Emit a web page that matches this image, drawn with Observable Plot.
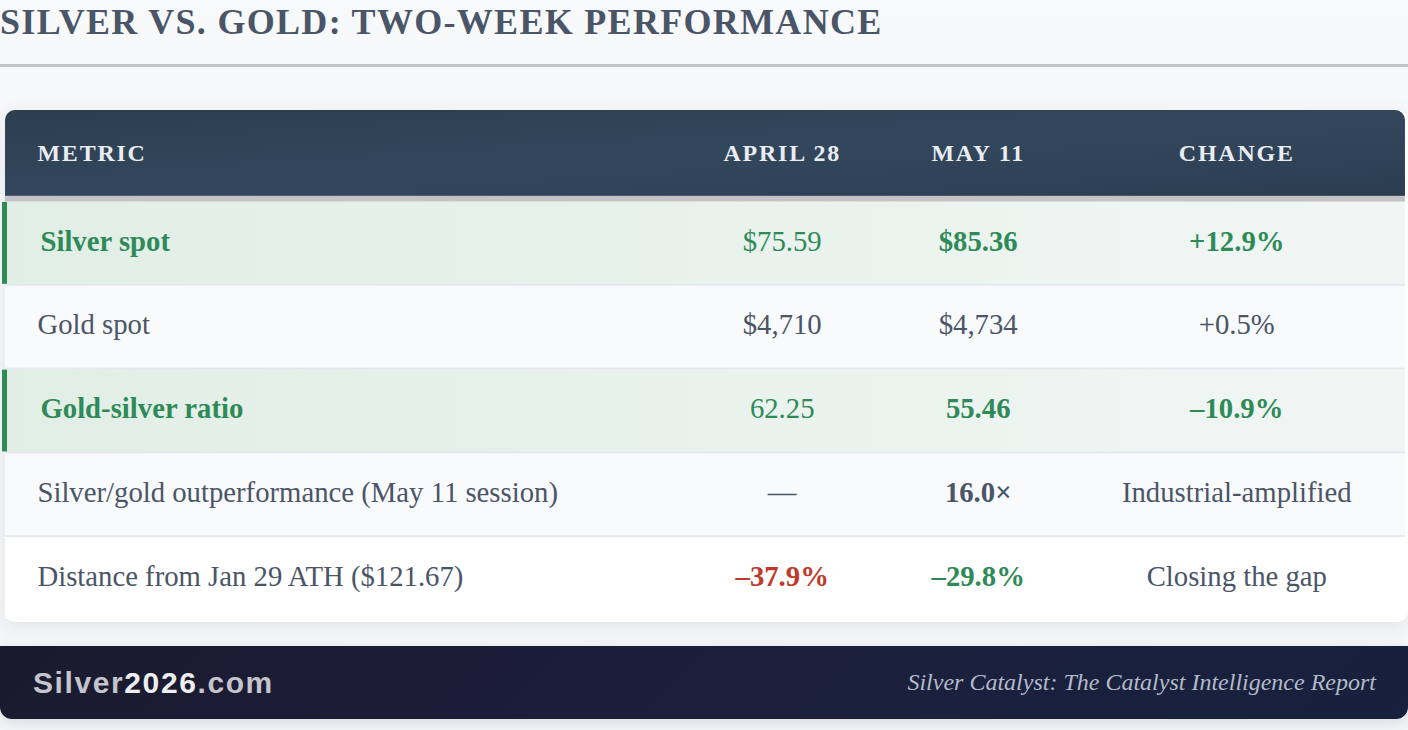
<!DOCTYPE html>
<html>
<head>
<meta charset="utf-8">
<script src="https://cdn.jsdelivr.net/npm/d3@7"></script>
<script src="https://cdn.jsdelivr.net/npm/@observablehq/plot@0.6"></script>
<style>
  html, body { margin: 0; padding: 0; }
  body { width: 1408px; height: 730px; position: relative; overflow: hidden;
         background: linear-gradient(180deg, #f8f9fb 0%, #f4f6f8 100%);
         font-family: "Liberation Serif", serif; }
  #title { position: absolute; left: 0; top: 4px; font-size: 36px; line-height: 36px;
           font-weight: bold; letter-spacing: 1.3px; color: #4a5568; white-space: nowrap; }
  #rule { position: absolute; left: 0; top: 64px; width: 1408px; height: 3px; background: #c4c5c9; }
  #card { position: absolute; left: 5px; top: 110px; width: 1403px; height: 512px;
          border-radius: 10px; background: #ffffff;
          box-shadow: 0 4px 20px rgba(30, 40, 60, 0.09); }
  #card svg { position: absolute; left: -3px; overflow: visible; }
  #footer { position: absolute; left: 0; top: 646px; width: 1408px; height: 73px;
            border-radius: 0 0 12px 12px; box-sizing: border-box;
            background: linear-gradient(135deg, #1a1a2e 0%, #1c1f3c 50%, #16213e 100%);
            display: flex; align-items: center; justify-content: space-between;
            padding: 0 32px 0 33px; box-shadow: 0 4px 14px rgba(20, 20, 40, 0.12); }
  #brand { font-family: "Liberation Sans", Arial, sans-serif; font-weight: bold; font-size: 30px;
           letter-spacing: 1.6px; color: #c3c4cc; }
  #brand b { color: #eeeeee; }
  #source { font-family: "Liberation Serif", serif; font-style: italic; font-size: 24px; color: #b3bac8; }
</style>
</head>
<body>
<div id="title">SILVER VS. GOLD: TWO-WEEK PERFORMANCE</div>
<div id="rule"></div>
<div id="card"></div>
<div id="footer">
  <div id="brand">Silver<b>2026</b>.com</div>
  <div id="source">Silver Catalyst: The Catalyst Intelligence Report</div>
</div>
<script>
// ---------- data ----------
const headers = ["Metric", "April 28", "May 11", "Change"];
const metrics = [
  "Silver spot",
  "Gold spot",
  "Gold-silver ratio",
  "Silver/gold outperformance (May 11 session)",
  "Distance from Jan 29 ATH ($121.67)"
];
const april28 = ["$75.59", "$4,710", "62.25", "\u2014", "\u201337.9%"];
const may11 = ["$85.36", "$4,734", "55.46", "16.0\u00d7", "\u201329.8%"];
const change = ["+12.9%", "+0.5%", "\u201310.9%", "Industrial-amplified", "Closing the gap"];
const highlighted = ["Silver spot", "Gold-silver ratio"];

// ---------- layout / style config ----------
const colKeys = ["metric", "apr", "may", "chg"];
const colWidths = [0.479, 0.1516, 0.1284, 0.241];   // fractions of table width
const colStart = colWidths.reduce((a, w, i) => (a.push(i ? a[i - 1] + colWidths[i - 1] : 0), a), []);
const colCenter = colWidths.map((w, i) => colStart[i] + w / 2);
const W = 1406, ML = 3, headerH = 92, borderH = 6, rowH = 84, FS = 28.8;
const DARK = "#4a5568", GREEN = "#2e8b57", RED = "#c0392b";
const emphasis = {
  "Silver/gold outperformance (May 11 session)": {may: {bold: true}},
  "Distance from Jan 29 ATH ($121.67)": {apr: {bold: true, color: RED}, may: {bold: true, color: GREEN}}
};

const rows = metrics.map((m, i) => ({metric: m, apr: april28[i], may: may11[i], chg: change[i], i}));
const isHi = m => highlighted.includes(m);

const cells = [];
rows.forEach(r => {
  colKeys.forEach((k, j) => {
    const hi = isHi(r.metric);
    const em = (emphasis[r.metric] || {})[k] || {};
    const bold = hi ? k !== "apr" : !!em.bold;
    const color = em.color || (hi ? GREEN : DARK);
    cells.push({metric: r.metric, col: k, text: r[k], x: colCenter[j], bold, color, hi});
  });
});
const valueCells = cells.filter(c => c.col !== "metric");
const metricCells = cells.filter(c => c.col === "metric");

// ---------- header ----------
const headerCells = headers.map((h, j) => ({text: h.toUpperCase(), x: colCenter[j], j}));
const hdr = Plot.plot({
  width: W, height: headerH,
  marginLeft: ML, marginRight: 0, marginTop: 0, marginBottom: borderH,
  x: {domain: [0, 1], axis: null},
  style: {background: "transparent", fontFamily: "Liberation Serif, serif", overflow: "visible"},
  marks: [
    Plot.barX([0], {x1: 0, x2: 1, fill: "#c3c3c5", insetBottom: -borderH}),
    Plot.barX([0], {x1: 0, x2: 1, fill: "url(#hdrGrad)"}),
    Plot.text(headerCells.filter(d => d.j === 0), {x: 0, text: "text", textAnchor: "start", dx: 32,
      fill: "#e9edf2", fontSize: 24, fontWeight: "bold"}),
    Plot.text(headerCells.filter(d => d.j > 0), {x: "x", text: "text", textAnchor: "middle",
      fill: "#e9edf2", fontSize: 24, fontWeight: "bold"})
  ]
});
d3.select(hdr).insert("defs", ":first-child").html(`
  <linearGradient id="hdrGrad" x1="0" y1="0" x2="1" y2="1">
    <stop offset="0" stop-color="#2c3e50"/>
    <stop offset="0.5" stop-color="#33475c"/>
    <stop offset="1" stop-color="#2c3d51"/>
  </linearGradient>`);
d3.select(hdr).selectAll("text").attr("letter-spacing", "1.8px");
hdr.style.top = "0px";
hdr.style.clipPath = "inset(0 0 0 3px round 10px 10px 0 0)";

// ---------- body ----------
const body = Plot.plot({
  width: W, height: rowH * metrics.length,
  marginLeft: ML, marginRight: 0, marginTop: 0, marginBottom: 0,
  x: {domain: [0, 1], axis: null},
  y: {domain: metrics, axis: null, padding: 0},
  color: {type: "identity"},
  style: {background: "transparent", fontFamily: "Liberation Serif, serif", overflow: "visible"},
  marks: [
    // row separators
    Plot.barX(rows.filter(r => r.i < rows.length - 1), {x1: 0, x2: 1, y: "metric", fill: "#e4e7ec"}),
    // row backgrounds
    Plot.barX(rows, {x1: 0, x2: 1, y: "metric", insetBottom: 2,
      fill: r => isHi(r.metric) ? "url(#rowGlow)" : (r.i % 2 ? "#f9fafb" : "#ffffff")}),
    // accent bar on highlighted rows
    Plot.barX(rows.filter(r => isHi(r.metric)), {x1: 0, x2: 0, y: "metric", insetLeft: -3, insetRight: -2,
      insetBottom: 2, fill: GREEN}),
    // metric names
    Plot.text(metricCells.filter(c => !c.hi), {x: 0, y: "metric", text: "text", textAnchor: "start",
      dx: 32, dy: -3, fill: "color", fontSize: FS}),
    Plot.text(metricCells.filter(c => c.hi), {x: 0, y: "metric", text: "text", textAnchor: "start",
      dx: 35, dy: -3, fill: "color", fontSize: FS, fontWeight: "bold"}),
    // values
    Plot.text(valueCells.filter(c => !c.bold), {x: "x", y: "metric", text: "text", textAnchor: "middle",
      dy: -3, fill: "color", fontSize: FS}),
    Plot.text(valueCells.filter(c => c.bold), {x: "x", y: "metric", text: "text", textAnchor: "middle",
      dy: -3, fill: "color", fontSize: FS, fontWeight: "bold"})
  ]
});
d3.select(body).insert("defs", ":first-child").html(`
  <linearGradient id="rowGlow" x1="0" y1="0" x2="1" y2="0">
    <stop offset="0" stop-color="#e1eee6"/>
    <stop offset="1" stop-color="#f1f6f4"/>
  </linearGradient>`);
body.style.top = headerH + "px";
body.style.clipPath = "inset(0 0 0 0 round 0 0 10px 10px)";

const card = document.getElementById("card");
card.appendChild(hdr);
card.appendChild(body);
</script>
</body>
</html>
